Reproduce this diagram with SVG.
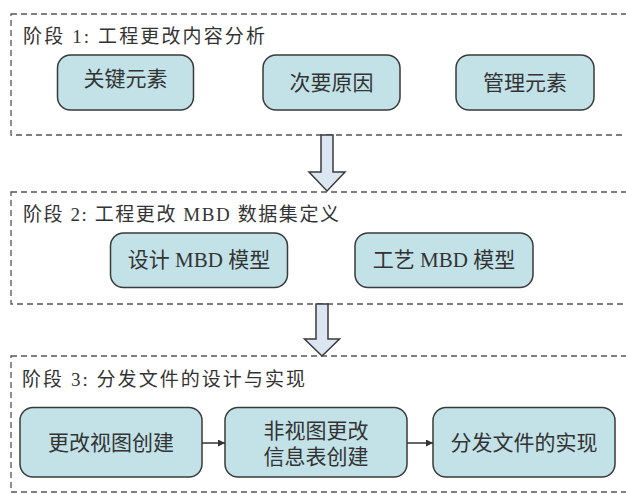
<svg xmlns="http://www.w3.org/2000/svg" width="626" height="494" viewBox="0 0 626 494">
  <style>
    .stage { fill: none; stroke: #555; stroke-width: 1.3; stroke-dasharray: 6 4; }
    .node rect { fill: #C2E2E8; stroke: #3a3a3a; stroke-width: 1.5; }
    .txt { font-family: "Liberation Serif", "Noto Sans CJK SC", serif; fill: #333; }
    .title { font-size: 19px; }
    .label { font-size: 21px; text-anchor: middle; dominant-baseline: central; }
    .block { fill: #DCE6F2; stroke: #3a3a3a; stroke-width: 1.5; stroke-linejoin: miter; }
    .conn { stroke: #333; stroke-width: 1.5; fill: none; }
  </style>
  <defs>
    <marker id="ah" viewBox="0 0 10 10" refX="10" refY="5" markerWidth="7" markerHeight="7" markerUnits="userSpaceOnUse" orient="auto">
      <path d="M0,0 L10,5 L0,10 z" fill="#333"/>
    </marker>
  </defs>

  <g id="stage1">
    <rect class="stage" x="11" y="14" width="625" height="121"/>
    <text class="txt title" x="23" y="43" textLength="242" lengthAdjust="spacing">阶段 1: 工程更改内容分析</text>
  </g>
  <g id="stage2">
    <rect class="stage" x="11" y="192" width="625" height="112"/>
    <text class="txt title" x="23" y="221" textLength="316" lengthAdjust="spacing">阶段 2: 工程更改 MBD 数据集定义</text>
  </g>
  <g id="stage3">
    <rect class="stage" x="11" y="356" width="625" height="136"/>
    <text class="txt title" x="22" y="386" textLength="283" lengthAdjust="spacing">阶段 3: 分发文件的设计与实现</text>
  </g>

  <g id="n-key" class="node">
    <rect x="57.5" y="55" width="136" height="55" rx="13"/>
    <text class="txt label" x="125.5" y="79">关键元素</text>
  </g>
  <g id="n-minor" class="node">
    <rect x="263" y="55" width="137" height="55" rx="13"/>
    <text class="txt label" x="331.5" y="83">次要原因</text>
  </g>
  <g id="n-mgmt" class="node">
    <rect x="456" y="55" width="138" height="55" rx="13"/>
    <text class="txt label" x="525" y="82.5">管理元素</text>
  </g>

  <g id="n-design" class="node">
    <rect x="110.5" y="233" width="177" height="54.5" rx="13"/>
    <text class="txt label" x="199" y="260">设计 MBD 模型</text>
  </g>
  <g id="n-process" class="node">
    <rect x="355" y="233" width="178" height="54.5" rx="13"/>
    <text class="txt label" x="444" y="260">工艺 MBD 模型</text>
  </g>

  <g id="n-view" class="node">
    <rect x="20" y="407.5" width="182" height="69.5" rx="13"/>
    <text class="txt label" x="111" y="442.5">更改视图创建</text>
  </g>
  <g id="n-nonview" class="node">
    <rect x="225" y="407.5" width="182" height="69.5" rx="13"/>
    <text class="txt label" x="316" y="430.5">非视图更改</text>
    <text class="txt label" x="316" y="457">信息表创建</text>
  </g>
  <g id="n-dist" class="node">
    <rect x="433" y="407.5" width="182" height="69.5" rx="13"/>
    <text class="txt label" x="524" y="442.5">分发文件的实现</text>
  </g>

  <g id="connectors">
    <path class="block" d="M321,135 L333,135 L333,172 L345,172 L327,191 L309,172 L321,172 Z"/>
    <path class="block" d="M316,304 L328,304 L328,339 L339.5,339 L322,356 L304.5,339 L316,339 Z"/>
    <line class="conn" x1="202" y1="443" x2="225" y2="443" marker-end="url(#ah)"/>
    <line class="conn" x1="407" y1="443" x2="433" y2="443" marker-end="url(#ah)"/>
  </g>
</svg>
